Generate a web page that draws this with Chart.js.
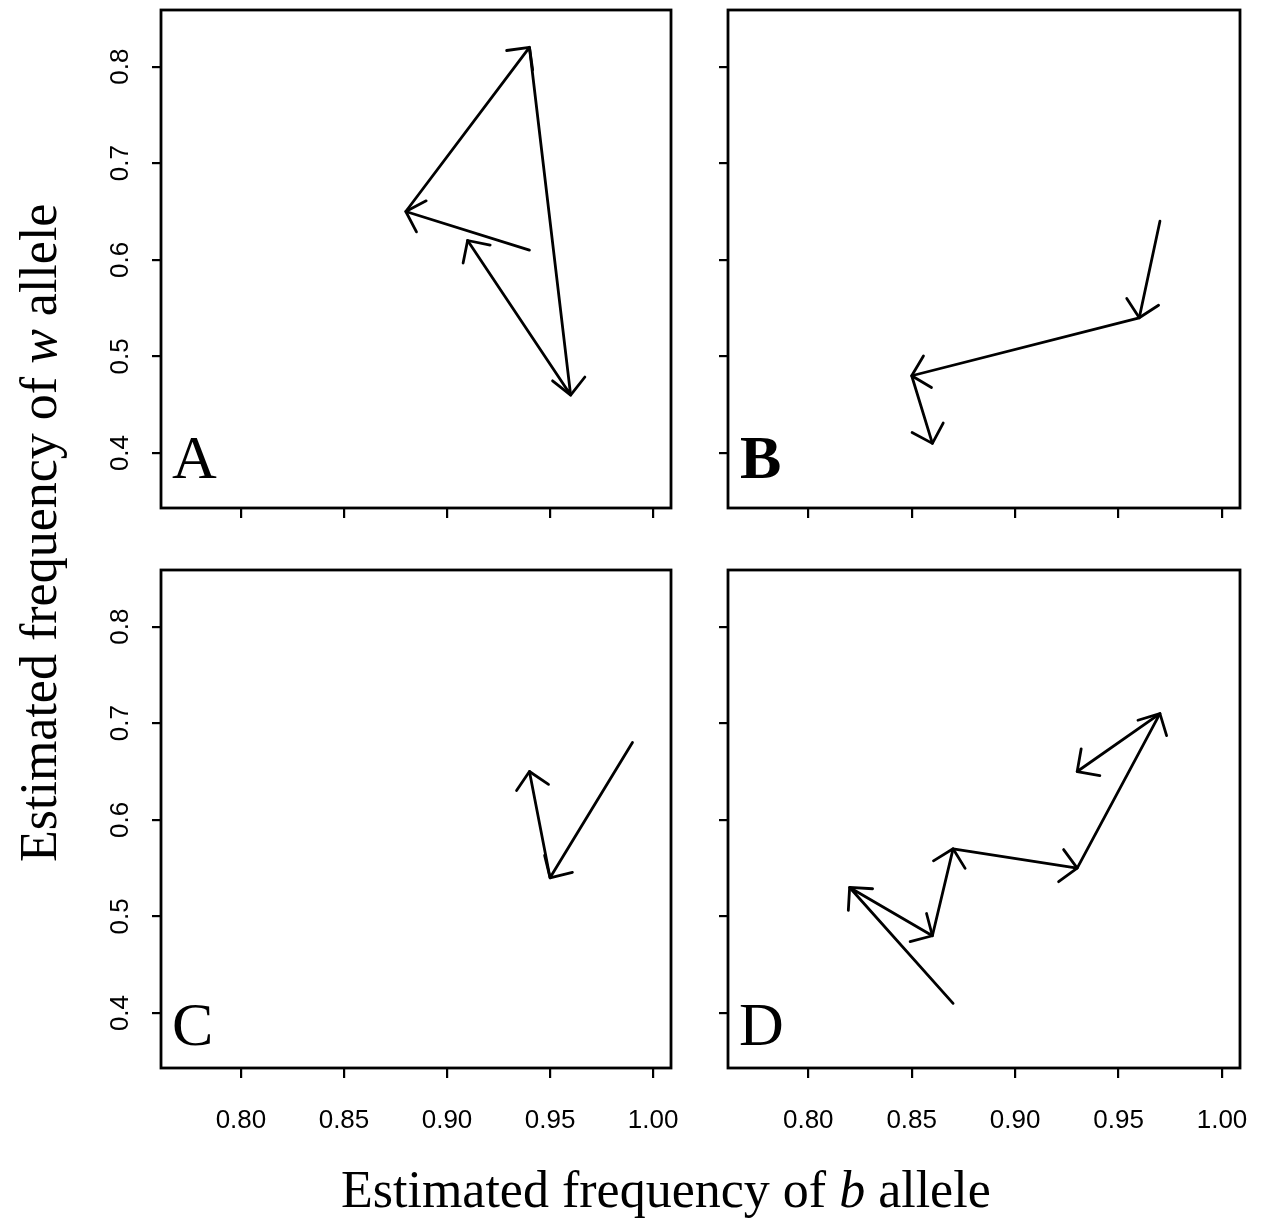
<!DOCTYPE html>
<html>
<head>
<meta charset="utf-8">
<script src="https://cdn.jsdelivr.net/npm/chart.js@4.4.1/dist/chart.umd.min.js"></script>
<style>
html,body{margin:0;padding:0;background:#fff;}
#wrap{position:relative;width:1266px;height:1226px;overflow:hidden;background:#fff;}
canvas{position:absolute;left:0;top:0;}
.t{position:absolute;white-space:nowrap;font-family:"Liberation Serif","Times New Roman",serif;color:#000;}
</style>
</head>
<body>
<div id="wrap">
  <canvas id="cA" width="1266" height="1226"></canvas>
  <canvas id="cB" width="1266" height="1226"></canvas>
  <canvas id="cC" width="1266" height="1226"></canvas>
  <canvas id="cD" width="1266" height="1226"></canvas>
  <div class="t" id="xt" style="left:341px;top:1164px;font-size:52px;line-height:52px;">Estimated frequency of <i>b</i> allele</div>
  <div class="t" id="yt" style="left:13px;top:862px;font-size:52px;line-height:52px;transform:rotate(-90deg);transform-origin:0 0;">Estimated frequency of <i>w</i> allele</div>
  <div class="t" style="left:172px;top:426px;font-size:62px;line-height:62px;">A</div>
  <div class="t" style="left:740px;top:426px;font-size:62px;line-height:62px;font-weight:bold;">B</div>
  <div class="t" style="left:172px;top:993px;font-size:62px;line-height:62px;">C</div>
  <div class="t" style="left:739px;top:993px;font-size:62px;line-height:62px;">D</div>
</div>
<script>
// ---- data ----
const xTicks = [0.80, 0.85, 0.90, 0.95, 1.00];
const xTickLabels = ["0.80", "0.85", "0.90", "0.95", "1.00"];
const yTicks = [0.4, 0.5, 0.6, 0.7, 0.8];
const yTickLabels = ["0.4", "0.5", "0.6", "0.7", "0.8"];

const aX = [0.94, 0.88, 0.94, 0.96, 0.91];
const aY = [0.61, 0.65, 0.82, 0.46, 0.62];
const bX = [0.97, 0.96, 0.85, 0.86];
const bY = [0.64, 0.54, 0.48, 0.41];
const cX = [0.99, 0.95, 0.94];
const cY = [0.68, 0.54, 0.65];
const dX = [0.87, 0.82, 0.86, 0.87, 0.93, 0.97, 0.93];
const dY = [0.41, 0.53, 0.48, 0.57, 0.55, 0.71, 0.65];

const X_MIN = 0.7612, X_MAX = 1.0087;
const Y_MIN = 0.3431, Y_MAX = 0.8586;

// ---- layout ----
const PAGE_W = 1266, PAGE_H = 1226;
const Y_W = 50, X_H = 70;
const TICK_FONT = {family: '"Liberation Sans", Arial, Helvetica, sans-serif', size: 26};
const HEAD_LEN = 23, HEAD_ANG = Math.PI / 4;
const LINE_W = 2.8;

const boxPlugin = {
  id: 'boxPlugin',
  afterDraw(chart) {
    const ca = chart.chartArea, ctx = chart.ctx;
    ctx.save();
    ctx.strokeStyle = '#000';
    ctx.lineWidth = 2.8;
    ctx.strokeRect(ca.left, ca.top, ca.right - ca.left, ca.bottom - ca.top);
    ctx.restore();
  }
};

const arrowPlugin = {
  id: 'arrowPlugin',
  afterDatasetsDraw(chart) {
    const ctx = chart.ctx;
    const pts = chart.getDatasetMeta(0).data;
    ctx.save();
    ctx.strokeStyle = '#000';
    ctx.lineWidth = LINE_W;
    ctx.lineCap = 'round';
    ctx.lineJoin = 'round';
    for (let k = 1; k < pts.length; k++) {
      const p = pts[k], q = pts[k - 1];
      const ang = Math.atan2(p.y - q.y, p.x - q.x) + Math.PI;
      ctx.beginPath();
      ctx.moveTo(p.x + HEAD_LEN * Math.cos(ang - HEAD_ANG), p.y + HEAD_LEN * Math.sin(ang - HEAD_ANG));
      ctx.lineTo(p.x, p.y);
      ctx.lineTo(p.x + HEAD_LEN * Math.cos(ang + HEAD_ANG), p.y + HEAD_LEN * Math.sin(ang + HEAD_ANG));
      ctx.stroke();
    }
    ctx.restore();
  }
};

const yLabelPlugin = {
  id: 'yLabelPlugin',
  afterDraw(chart, args, opts) {
    if (!opts.show) return;
    const ctx = chart.ctx, ys = chart.scales.y, ca = chart.chartArea;
    ctx.save();
    ctx.fillStyle = '#000';
    ctx.font = TICK_FONT.size + 'px ' + TICK_FONT.family;
    ctx.textAlign = 'center';
    ctx.textBaseline = 'alphabetic';
    yTicks.forEach((v, i) => {
      const py = ys.getPixelForValue(v);
      ctx.save();
      ctx.translate(ca.left - 33, py);
      ctx.rotate(-Math.PI / 2);
      ctx.fillText(yTickLabels[i], 0, 0);
      ctx.restore();
    });
    ctx.restore();
  }
};

function makePanel(id, xs, ys, box, showX, showY) {
  const pts = xs.map((x, i) => ({x: x, y: ys[i]}));
  new Chart(document.getElementById(id), {
    type: 'scatter',
    data: {
      datasets: [{
        data: pts,
        showLine: true,
        borderColor: '#000',
        borderWidth: LINE_W,
        borderCapStyle: 'round',
        borderJoinStyle: 'round',
        pointRadius: 0,
        pointHoverRadius: 0,
        tension: 0,
        fill: false
      }]
    },
    options: {
      responsive: false,
      animation: false,
      devicePixelRatio: 1,
      events: [],
      layout: {
        padding: {
          left: box.l - Y_W,
          top: box.t,
          right: PAGE_W - box.r,
          bottom: PAGE_H - box.b - X_H
        }
      },
      plugins: {
        legend: {display: false},
        tooltip: {enabled: false},
        yLabelPlugin: {show: showY}
      },
      scales: {
        x: {
          type: 'linear',
          position: 'bottom',
          min: X_MIN,
          max: X_MAX,
          afterBuildTicks: s => { s.ticks = xTicks.map(v => ({value: v})); },
          afterFit: s => { s.height = X_H; s.paddingLeft = 0; s.paddingRight = 0; },
          border: {display: false},
          grid: {drawOnChartArea: false, drawTicks: true, tickLength: 10, lineWidth: 2.2, color: '#000'},
          ticks: {
            display: showX,
            autoSkip: false,
            maxRotation: 0,
            minRotation: 0,
            padding: 27,
            color: '#000',
            font: TICK_FONT,
            callback: (v, i) => xTickLabels[i]
          }
        },
        y: {
          type: 'linear',
          position: 'left',
          min: Y_MIN,
          max: Y_MAX,
          afterBuildTicks: s => { s.ticks = yTicks.map(v => ({value: v})); },
          afterFit: s => { s.width = Y_W; s.paddingTop = 0; s.paddingBottom = 0; },
          border: {display: false},
          grid: {drawOnChartArea: false, drawTicks: true, tickLength: 9, lineWidth: 2.2, color: '#000'},
          ticks: {display: false}
        }
      }
    },
    plugins: [boxPlugin, arrowPlugin, yLabelPlugin]
  });
}

makePanel('cA', aX, aY, {l: 161, t: 10, r: 671, b: 508}, false, true);
makePanel('cB', bX, bY, {l: 728, t: 10, r: 1240, b: 508}, false, false);
makePanel('cC', cX, cY, {l: 161, t: 570, r: 671, b: 1068}, true, true);
makePanel('cD', dX, dY, {l: 728, t: 570, r: 1240, b: 1068}, true, false);
</script>
</body>
</html>
